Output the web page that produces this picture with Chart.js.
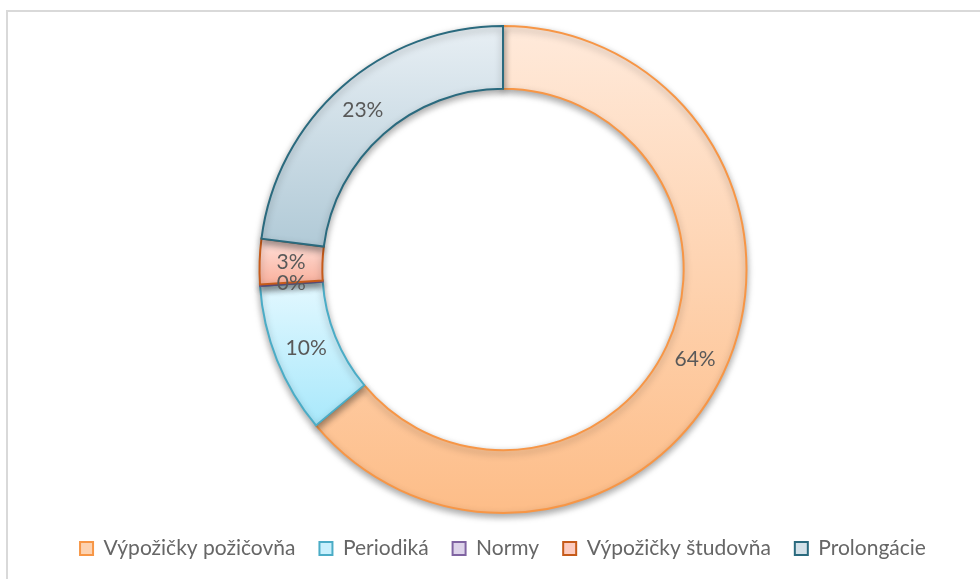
<!DOCTYPE html>
<html lang="sk">
<head>
<meta charset="UTF-8">
<title>Výpožičky</title>
<script src="https://cdn.jsdelivr.net/npm/chart.js"></script>
<style>
    body {
        margin: 0;
        background: #fff;
        overflow: hidden;
    }
    #wrap {
        position: relative;
        width: 980px;
        height: 579px;
    }
    #frame {
        position: absolute;
        left: 6px;
        top: 10px;
        width: 1000px;
        height: 620px;
        border-left: 2px solid #d9d9d9;
        border-top: 2px solid #d9d9d9;
    }
    canvas {
        position: absolute;
        left: 0;
        top: 0;
    }
</style>
</head>
<body>
<div id="wrap">
    <div id="frame"></div>
    <canvas id="donut" width="980" height="579"></canvas>
</div>

<script>
    const labels = ['Výpožičky požičovňa', 'Periodiká', 'Normy', 'Výpožičky študovňa', 'Prolongácie'];
    const values = [64, 10, 0.1, 3, 23];

    // gradient top / bottom per slice, border, legend box
    const topColors = ['#ffeadb', '#e3f8ff', '#e6dcf0', '#ffe2dc', '#e8eff4'];
    const bottomColors = ['#fdbd88', '#a8e8fb', '#c9b8dd', '#f9b09c', '#b1cad7'];
    const borderColors = ['#f79646', '#4bacc6', '#8064a2', '#c65b1a', '#2a6a7e'];
    const legendFill = ['#fdd2b0', '#c8f0fd', '#ddd3ea', '#fdcbbf', '#d3e1e9'];

    const total = values.reduce((a, b) => a + b, 0);
    const cutout = 0.742;

    // vertical extent of one slice, to lay its gradient over it
    function sliceRange(i, area) {
        const cx = (area.left + area.right) / 2;
        const cy = (area.top + area.bottom) / 2;
        const ro = Math.min(area.right - area.left, area.bottom - area.top) / 2;
        const ri = ro * cutout;
        let before = 0;
        for (let k = 0; k < i; k++) before += values[k];
        const a0 = before / total * Math.PI * 2;
        const a1 = (before + values[i]) / total * Math.PI * 2;
        let ys = [];
        [a0, a1].forEach(a => {
            ys.push(cy - ro * Math.cos(a));
            ys.push(cy - ri * Math.cos(a));
        });
        if (a0 <= 0.0001) ys.push(cy - ro);
        if (a0 <= Math.PI && a1 >= Math.PI) ys.push(cy + ro);
        return [Math.min(...ys), Math.max(...ys)];
    }

    function sliceFill(ctx) {
        const chart = ctx.chart;
        const area = chart.chartArea;
        if (!area) return topColors[ctx.dataIndex];
        const r = sliceRange(ctx.dataIndex, area);
        const g = chart.ctx.createLinearGradient(0, r[0], 0, r[1] + 0.01);
        g.addColorStop(0, topColors[ctx.dataIndex]);
        g.addColorStop(1, bottomColors[ctx.dataIndex]);
        return g;
    }

    const shadowPlugin = {
        id: 'ringShadow',
        beforeDatasetsDraw(chart) {
            const c = chart.ctx;
            c.save();
            c.shadowColor = 'rgba(0, 0, 0, 0.35)';
            c.shadowBlur = 7;
            c.shadowOffsetY = 3;
        },
        afterDatasetsDraw(chart) {
            chart.ctx.restore();
        }
    };

    const percentPlugin = {
        id: 'percentLabels',
        afterDraw(chart) {
            const c = chart.ctx;
            const meta = chart.getDatasetMeta(0);
            c.save();
            c.font = '21px Lato';
            c.fillStyle = '#595959';
            c.textAlign = 'center';
            c.textBaseline = 'middle';
            meta.data.forEach((arc, i) => {
                const p = arc.tooltipPosition();
                c.fillText(Math.round(values[i] / total * 100) + '%', p.x, p.y);
            });
            c.restore();
        }
    };

    new Chart(document.getElementById('donut'), {
        type: 'doughnut',
        data: {
            labels: labels,
            datasets: [{
                data: values,
                backgroundColor: sliceFill,
                borderColor: borderColors,
                borderWidth: 2,
                borderJoinStyle: 'miter'
            }]
        },
        options: {
            responsive: false,
            animation: false,
            cutout: (cutout * 100) + '%',
            layout: {
                padding: { top: 25, left: 26, right: 0, bottom: 10 }
            },
            plugins: {
                tooltip: { enabled: false },
                legend: {
                    position: 'bottom',
                    labels: {
                        boxWidth: 13,
                        boxHeight: 13,
                        padding: 24,
                        color: '#666666',
                        font: { family: 'Lato', size: 21 },
                        generateLabels(chart) {
                            const items = Chart.overrides.doughnut.plugins.legend.labels.generateLabels(chart);
                            items.forEach((it, i) => {
                                it.fillStyle = legendFill[i];
                                it.strokeStyle = borderColors[i];
                                it.lineWidth = 2;
                            });
                            return items;
                        }
                    }
                }
            }
        },
        plugins: [shadowPlugin, percentPlugin]
    });
</script>
</body>
</html>
